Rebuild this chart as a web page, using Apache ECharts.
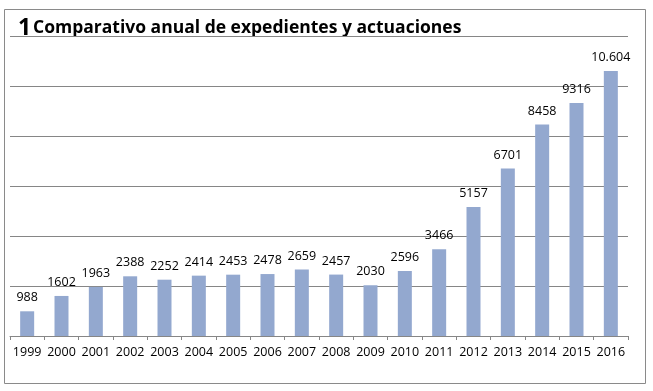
<!DOCTYPE html>
<html>
<head>
<meta charset="utf-8">
<script src="https://cdn.jsdelivr.net/npm/echarts@6/dist/echarts.min.js"></script>
<style>html,body{margin:0;padding:0;background:#fff;}#c{width:653px;height:391px;}</style>
</head>
<body>
<div id="c"></div>
<script>
const years = ['1999','2000','2001','2002','2003','2004','2005','2006','2007','2008','2009','2010','2011','2012','2013','2014','2015','2016'];
const values = [988,1602,1963,2388,2252,2414,2453,2478,2659,2457,2030,2596,3466,5157,6701,8458,9316,10604];
const valueLabels = ['988','1602','1963','2388','2252','2414','2453','2478','2659','2457','2030','2596','3466','5157','6701','8458','9316','10.604'];
const yTicks = [0,2000,4000,6000,8000,10000,12000];

const chart = echarts.init(document.getElementById('c'), null, {renderer:'canvas'});
chart.setOption({
  animation:false,
  backgroundColor:'#ffffff',
  graphic:[
    {type:'rect', shape:{x:4.5,y:9.5,width:641,height:374}, style:{fill:'none',stroke:'#8a8a8a',lineWidth:1}, z:-1},
    {type:'text', left:18, top:17, style:{text:'1', font:'bold 23px "Open Sans", sans-serif', fill:'#000'}},
    {type:'text', left:33, top:19, style:{text:'Comparativo anual de expedientes y actuaciones', font:'bold 17.5px "Open Sans", sans-serif', fill:'#000'}}
  ],
  grid:{left:10, right:25, top:36, bottom:55, containLabel:false},
  xAxis:{
    type:'category', data:years,
    axisLine:{show:true, lineStyle:{color:'#868686', width:1}},
    axisTick:{show:true, length:4, alignWithLabel:false, lineStyle:{color:'#868686'}},
    axisLabel:{color:'#000', fontSize:12.5, fontFamily:'"Open Sans", sans-serif', margin:10, interval:0}
  },
  yAxis:{
    type:'value', min:yTicks[0], max:yTicks[yTicks.length-1], interval:2000,
    axisLine:{show:false}, axisTick:{show:false}, axisLabel:{show:false},
    splitLine:{show:true, lineStyle:{color:'#868686', width:1}}
  },
  series:[{
    type:'bar', data:values, barWidth:14,
    itemStyle:{color:'#93A8CF'},
    label:{show:true, position:'top', distance:7, color:'#000', fontSize:12.5, fontFamily:'"Open Sans", sans-serif',
      formatter:(p)=>valueLabels[p.dataIndex]}
  }]
});
</script>
</body>
</html>
